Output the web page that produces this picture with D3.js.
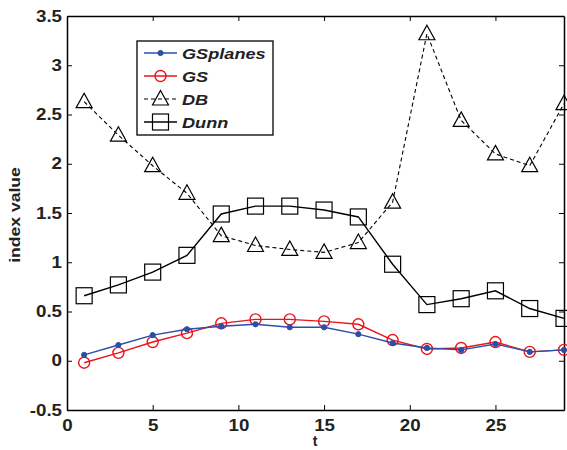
<!DOCTYPE html>
<html>
<head>
<meta charset="utf-8">
<script src="https://cdn.jsdelivr.net/npm/d3@7"></script>
<style>
  html, body { margin: 0; padding: 0; background: #fff; }
  svg { display: block; }
  text { font-family: "Liberation Sans", Arial, Helvetica, sans-serif; }
</style>
</head>
<body>
<svg id="chart" width="567" height="450"></svg>
<script>
// Time steps
const t = [1, 3, 5, 7, 9, 11, 13, 15, 17, 19, 21, 23, 25, 27, 29];

// Index values per method
const gsplanes = [0.06, 0.16, 0.26, 0.32, 0.35, 0.37, 0.34, 0.34, 0.27, 0.18, 0.13, 0.11, 0.17, 0.09, 0.11];
const gs       = [-0.02, 0.08, 0.19, 0.28, 0.38, 0.42, 0.42, 0.40, 0.37, 0.21, 0.12, 0.13, 0.19, 0.09, 0.11];
const db       = [2.63, 2.29, 1.98, 1.70, 1.27, 1.17, 1.13, 1.10, 1.20, 1.61, 3.32, 2.44, 2.10, 1.98, 2.61];
const dunn     = [0.66, 0.77, 0.90, 1.07, 1.49, 1.57, 1.57, 1.53, 1.46, 0.98, 0.57, 0.63, 0.71, 0.53, 0.43];

// Axis ticks
const xTicks = [0, 5, 10, 15, 20, 25];
const yTicks = [-0.5, 0, 0.5, 1, 1.5, 2, 2.5, 3, 3.5];

const series = [
  { name: "GSplanes", values: gsplanes, color: "#2b4fa8", dash: null, marker: "dot" },
  { name: "GS",       values: gs,       color: "#e8141c", dash: null, marker: "circle" },
  { name: "DB",       values: db,       color: "#000000", dash: "4,3", marker: "triangle" },
  { name: "Dunn",     values: dunn,     color: "#000000", dash: null, marker: "square" }
];

const svg = d3.select("#chart");
const margin = { left: 67, right: 3, top: 16, bottom: 40 };
const W = 567, H = 450;
const x = d3.scaleLinear().domain([0, 29]).range([margin.left, W - margin.right]);
const y = d3.scaleLinear().domain([-0.5, 3.5]).range([H - margin.bottom, margin.top]);

const tickLen = 5;
const STRETCH = 1.17; // wide Helvetica-like lettering

// Widen a text selection horizontally (along its baseline)
function widen(sel) {
  sel.each(function () {
    const w = this.getComputedTextLength();
    if (w > 0) {
      d3.select(this).attr("textLength", w * STRETCH).attr("lengthAdjust", "spacingAndGlyphs");
    }
  });
}

// Axes (ticks pointing inward, mirrored on top and right)
const gx = svg.append("g").attr("transform", `translate(0,${y(-0.5)})`)
  .call(d3.axisBottom(x).tickValues(xTicks).tickSize(-tickLen).tickSizeOuter(0).tickPadding(10).tickFormat(d => String(d)));
const gxTop = svg.append("g").attr("transform", `translate(0,${y(3.5)})`)
  .call(d3.axisTop(x).tickValues(xTicks).tickSize(-tickLen).tickSizeOuter(0).tickFormat(""));
const gy = svg.append("g").attr("transform", `translate(${x(0)},0)`)
  .call(d3.axisLeft(y).tickValues(yTicks).tickSize(-tickLen).tickSizeOuter(0).tickPadding(5).tickFormat(d => String(d)));
const gyRight = svg.append("g").attr("transform", `translate(${x(29)},0)`)
  .call(d3.axisRight(y).tickValues(yTicks).tickSize(-tickLen).tickSizeOuter(0).tickFormat(""));

[gx, gxTop, gy, gyRight].forEach(g => {
  g.select(".domain").attr("stroke", "#000").attr("stroke-width", 1.5);
  g.selectAll(".tick line").attr("stroke", "#000").attr("stroke-width", 1);
  g.selectAll("text").attr("fill", "#222").attr("font-size", 16).attr("font-weight", "bold")
    .attr("font-family", "'Liberation Sans', Arial, sans-serif");
});
widen(gx.selectAll("text"));
widen(gy.selectAll("text"));

// Axis titles
svg.append("text")
  .attr("x", 315).attr("y", 446)
  .attr("text-anchor", "middle").attr("font-size", 14).attr("font-weight", "bold").attr("fill", "#222")
  .text("t");
svg.append("text")
  .attr("transform", `translate(20,215) rotate(-90)`)
  .attr("text-anchor", "middle").attr("font-size", 15).attr("font-weight", "bold").attr("fill", "#222")
  .text("index value")
  .call(widen);

// Marker drawing
function drawMarker(g, type, color) {
  if (type === "dot") {
    g.append("circle").attr("r", 2.6).attr("fill", color).attr("stroke", color);
  } else if (type === "circle") {
    g.append("circle").attr("r", 5.5).attr("fill", "none").attr("stroke", color).attr("stroke-width", 1.4);
  } else if (type === "triangle") {
    g.append("path").attr("d", "M0,-8.5L8,6L-8,6Z").attr("fill", "none").attr("stroke", color).attr("stroke-width", 1.2);
  } else if (type === "square") {
    g.append("rect").attr("x", -8).attr("y", -8).attr("width", 16).attr("height", 16)
      .attr("fill", "none").attr("stroke", color).attr("stroke-width", 1.2);
  }
}

const line = d3.line().x(d => x(d[0])).y(d => y(d[1]));
const plot = svg.append("g");

// Draw back-to-front: Dunn, DB, GS, GSplanes
[3, 2, 1, 0].forEach(i => {
  const s = series[i];
  const pts = t.map((tv, j) => [tv, s.values[j]]);
  plot.append("path").datum(pts)
    .attr("d", line).attr("fill", "none")
    .attr("stroke", s.color).attr("stroke-width", s.marker === "triangle" ? 1.1 : 1.4)
    .attr("stroke-dasharray", s.dash);
  pts.forEach(p => {
    const g = plot.append("g").attr("transform", `translate(${x(p[0])},${y(p[1])})`);
    drawMarker(g, s.marker, s.color);
  });
});

// Legend
const lg = svg.append("g");
lg.append("rect").attr("x", 137).attr("y", 41).attr("width", 136).attr("height", 94)
  .attr("fill", "#fff").attr("stroke", "#000").attr("stroke-width", 1.3);
series.forEach((s, i) => {
  const yy = 53 + i * 23;
  lg.append("line").attr("x1", 144).attr("x2", 177).attr("y1", yy).attr("y2", yy)
    .attr("stroke", s.color).attr("stroke-width", s.marker === "triangle" ? 1.1 : 1.4)
    .attr("stroke-dasharray", s.dash);
  const g = lg.append("g").attr("transform", `translate(160.5,${yy})`);
  drawMarker(g, s.marker, s.color);
  lg.append("text").attr("x", 182).attr("y", yy + 5.5)
    .attr("font-size", 15.5).attr("font-weight", "bold").attr("font-style", "italic").attr("fill", "#222")
    .text(s.name)
    .call(widen);
});
</script>
</body>
</html>
